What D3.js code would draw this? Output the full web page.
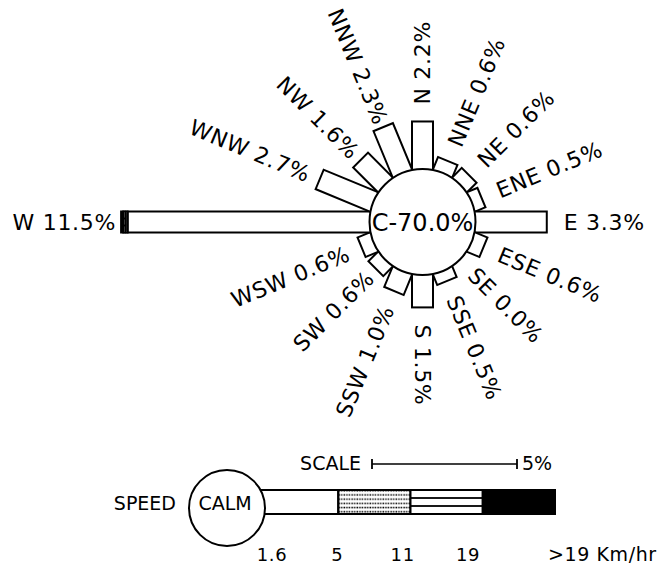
<!DOCTYPE html>
<html>
<head>
<meta charset="utf-8">
<script src="https://cdn.jsdelivr.net/npm/d3@7"></script>
<style>
  html, body { margin: 0; padding: 0; background: #fff; }
  svg { display: block; font-family: "DejaVu Sans", Verdana, sans-serif; }
</style>
</head>
<body>
<svg id="chart" width="661" height="568"></svg>
<script>
// Wind directions, clockwise from north
const directions = ["N", "NNE", "NE", "ENE", "E", "ESE", "SE", "SSE",
                    "S", "SSW", "SW", "WSW", "W", "WNW", "NW", "NNW"];
// Speed classes (km/hr), innermost first
const speedClasses = ["1.6-5", "5-11", "11-19", ">19"];
// Frequency (%) of each speed class per direction
const speed1to5   = [2.2, 0.6, 0.6, 0.5, 3.3, 0.6, 0.0, 0.5, 1.5, 1.0, 0.6, 0.6, 11.2, 2.7, 1.6, 2.3];
const speed5to11  = [0,   0,   0,   0,   0,   0,   0,   0,   0,   0,   0,   0,   0.1,  0,   0,   0];
const speed11to19 = [0,   0,   0,   0,   0,   0,   0,   0,   0,   0,   0,   0,   0.1,  0,   0,   0];
const speedOver19 = [0,   0,   0,   0,   0,   0,   0,   0,   0,   0,   0,   0,   0.1,  0,   0,   0];
const calmPercent = 70.0;
const scaleKeyPercent = 5;
const keyTickLabels = ["1.6", "5", "11", "19"];
const keyLastLabel = ">19 Km/hr";

const speedSeries = [speed1to5, speed5to11, speed11to19, speedOver19];

const svg = d3.select("#chart");
const defs = svg.append("defs");

// Stipple used for the 5-11 class
const dots = defs.append("pattern").attr("id", "dots")
  .attr("patternUnits", "userSpaceOnUse").attr("width", 2.6).attr("height", 4.2);
dots.append("rect").attr("x", 0.4).attr("y", 0.6).attr("width", 1.5).attr("height", 1.5).attr("fill", "#000");

// Horizontal stripes used for the 11-19 class
function stripePattern(id, period) {
  const p = defs.append("pattern").attr("id", id)
    .attr("patternUnits", "userSpaceOnUse").attr("width", 10).attr("height", period);
  p.append("rect").attr("width", 10).attr("height", period).attr("fill", "#fff");
  p.append("rect").attr("y", period / 2 - 0.9).attr("width", 10).attr("height", 1.8).attr("fill", "#000");
}
stripePattern("stripesRose", 7);
stripePattern("stripesKey", 8);

const roseFills = ["#fff", "url(#dots)", "url(#stripesRose)", "#000"];
const keyFills  = ["#fff", "url(#dots)", "url(#stripesKey)", "#000"];

// ---- Wind rose ----
const cx = 422.5, cy = 222, R = 53, barW = 21;
const radial = d3.scaleLinear().domain([0, 1]).range([0, 21.6]);
const angle = d3.scaleLinear().domain([0, directions.length]).range([0, 360]);

const rose = svg.append("g").attr("transform", `translate(${cx},${cy})`);

const dirData = directions.map((dir, i) => {
  const parts = speedSeries.map(s => s[i]);
  const total = d3.sum(parts);
  return { dir, i, parts, total, deg: angle(i) };
});

const bars = rose.selectAll("g.dir").data(dirData).join("g")
  .attr("class", "dir")
  .attr("transform", d => `rotate(${d.deg - 90})`);

bars.each(function (d) {
  const g = d3.select(this);
  let cum = 0;
  d.parts.forEach((v, k) => {
    if (v > 0) {
      const x0 = cum === 0 ? R - 4 : R + radial(cum);
      const x1 = R + radial(cum + v);
      g.append("rect")
        .attr("x", x0).attr("y", -barW / 2)
        .attr("width", x1 - x0).attr("height", barW)
        .attr("fill", roseFills[k])
        .attr("stroke", "#000").attr("stroke-width", 2);
    }
    cum += v;
  });
});

// Calm circle in the middle
rose.append("circle").attr("r", R)
  .attr("fill", "#fff").attr("stroke", "#000").attr("stroke-width", 2);
rose.append("text")
  .attr("text-anchor", "middle").attr("dy", "0.36em")
  .attr("font-size", 24)
  .text(`C-${calmPercent.toFixed(1)}%`);

// Direction labels, read outward on the east side, inward on the west side
const gapOverride = { W: 5, WNW: 11, NW: 7, NNW: 4, SW: 8, WSW: 14 };
const labelGap = d => gapOverride[d.dir] ?? 17;
rose.selectAll("text.lbl").data(dirData).join("text")
  .attr("class", "lbl")
  .attr("font-size", 22)
  .attr("letter-spacing", 0.7)
  .attr("dy", "0.36em")
  .attr("text-anchor", d => d.deg <= 180 ? "start" : "end")
  .attr("transform", d => {
    const rr = R + radial(d.total) + labelGap(d);
    return `rotate(${d.deg - 90}) translate(${rr},0)` + (d.deg <= 180 ? "" : " rotate(180)");
  })
  .text(d => `${d.dir} ${d.total.toFixed(1)}%`);

// ---- Key ----
const key = svg.append("g");

// Scale line
const keyScale = d3.scaleLinear().domain([0, scaleKeyPercent]).range([372, 517]);
const sy = 464;
key.append("text").attr("x", 361).attr("y", 470).attr("text-anchor", "end")
  .attr("font-size", 19).text("SCALE");
key.append("line").attr("x1", keyScale(0)).attr("x2", keyScale(scaleKeyPercent))
  .attr("y1", sy).attr("y2", sy).attr("stroke", "#000").attr("stroke-width", 1.5);
[0, scaleKeyPercent].forEach(v => {
  key.append("line").attr("x1", keyScale(v)).attr("x2", keyScale(v))
    .attr("y1", sy - 5).attr("y2", sy + 5).attr("stroke", "#000").attr("stroke-width", 1.8);
});
key.append("text").attr("x", 522).attr("y", 470).attr("font-size", 19)
  .text(`${scaleKeyPercent}%`);

// Speed bar
const band = d3.scaleBand().domain(speedClasses).range([266, 555]);
const speedBar = key.append("g").attr("transform", "translate(0,502)");
speedBar.selectAll("rect").data(speedClasses).join("rect")
  .attr("x", (d, k) => k === 0 ? band(d) - 8 : band(d))
  .attr("width", (d, k) => k === 0 ? band.bandwidth() + 8 : band.bandwidth())
  .attr("y", -12).attr("height", 24)
  .attr("fill", (d, k) => keyFills[k])
  .attr("stroke", "#000").attr("stroke-width", 2);

key.append("circle").attr("cx", 227).attr("cy", 508).attr("r", 38)
  .attr("fill", "#fff").attr("stroke", "#000").attr("stroke-width", 2);
key.append("text").attr("x", 225).attr("y", 510).attr("text-anchor", "middle")
  .attr("font-size", 19).text("CALM");
key.append("text").attr("x", 176).attr("y", 510).attr("text-anchor", "end")
  .attr("font-size", 19).text("SPEED");

// Speed class boundaries
const tickX = d3.scaleLinear().domain([0, keyTickLabels.length - 1]).range([272, 468]);
key.selectAll("text.tick").data(keyTickLabels).join("text")
  .attr("class", "tick")
  .attr("x", (d, k) => tickX(k)).attr("y", 561)
  .attr("text-anchor", "middle").attr("font-size", 18)
  .attr("letter-spacing", 0.6)
  .text(d => d);
key.append("text").attr("x", 548).attr("y", 561).attr("font-size", 19)
  .attr("letter-spacing", 0.6).text(keyLastLabel);
</script>
</body>
</html>
